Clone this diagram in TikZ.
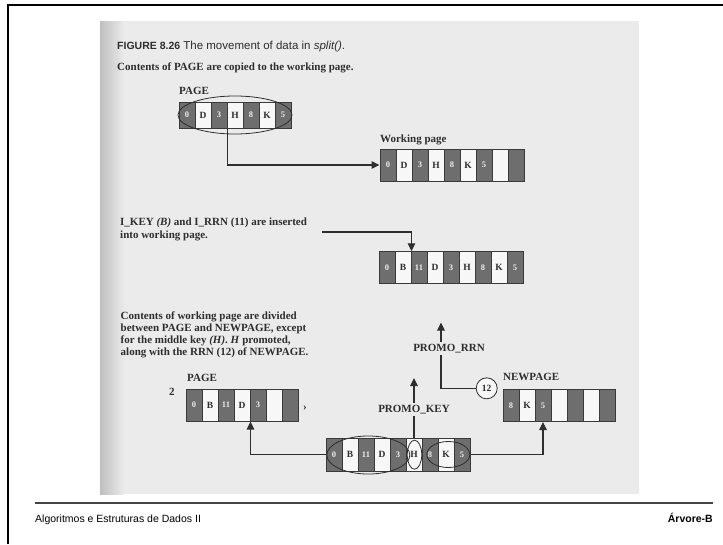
\documentclass[tikz,border=0pt]{standalone}
\usepackage{fontspec}
\setmainfont{Liberation Serif}
\setsansfont{Liberation Sans}
\usetikzlibrary{arrows.meta,shapes.geometric,calc}
\definecolor{bg}{HTML}{EBEBEB}
\definecolor{ink}{HTML}{2E2E2E}
\definecolor{dcell}{HTML}{6E6E6E}
\definecolor{wcell}{HTML}{F7F7F7}
\definecolor{cellln}{HTML}{3A3A3A}
\definecolor{fline}{HTML}{444444}
\newcommand\cellrow[5]{%
  \foreach \k/\v [count=\i from 0] in {#5} {
    \node[cell\k, minimum height=#4pt] (#1\i) at ({#2+16*\i+8},#3) {\v};
  }}
\begin{document}
\begin{tikzpicture}[x=1pt,y=-1pt,
  txt/.style={inner sep=0,anchor=base west,text=ink,font=\fontsize{11}{12}\selectfont\bfseries},
  capt/.style={inner sep=0,anchor=base west,text=ink,font=\sffamily\fontsize{11.5}{13}\selectfont},
  lbl/.style={inner sep=2pt,text=ink,font=\fontsize{11}{12}\selectfont\bfseries},
  cellD/.style={draw=cellln,line width=1pt,fill=dcell,minimum width=16pt,inner sep=0,text=white!85!gray,font=\fontsize{8.5}{9}\selectfont\bfseries},
  cellW/.style={draw=cellln,line width=1pt,fill=wcell,minimum width=16pt,inner sep=0,text=ink,font=\fontsize{9.5}{10}\selectfont\bfseries},
  conn/.style={draw=ink,line width=1.1pt},
  arr/.style={conn,-{Triangle[length=8pt,width=7.5pt]}},
  oval/.style={ellipse,draw=ink,line width=0.8pt,inner sep=0},
  foot/.style={inner sep=0,text=black,font=\sffamily\fontsize{10.5}{12}\selectfont}
]
\useasboundingbox (0,0) rectangle (723,544);
\fill[white] (0,0) rectangle (723,544);
% scanned page
\fill[bg] (100,21) rectangle (639,494);
\shade[left color=gray!50!white, right color=bg] (100,21) rectangle (124,494);
% frame
\draw[line width=2.5pt,black] (8,544) -- (8,5) -- (723,5);

% caption
\node[capt] (fig) at (117,49) {{\fontsize{10.5}{12}\selectfont\bfseries FIGURE 8.26} The movement of data in \textit{split()}.};
\node[txt] (t1) at (117,70.5) {Contents of PAGE are copied to the working page.};

% top PAGE
\node[txt] (lp) at (179,94) {PAGE};
\cellrow{p}{179}{115}{26}{D/0,W/D,D/3,W/H,D/8,W/K,D/5}
\node[oval, minimum width=114pt, minimum height=38pt] (o1) at (235,115) {};

% working page
\node[txt] (lw) at (380,142) {Working page};
\cellrow{w}{380}{165}{32}{D/0,W/D,D/3,W/H,D/8,W/K,D/5,W/{},D/{}}
\draw[arr] (p2.south east) |- (w0.west);

% insert
\node[txt] (t2a) at (120,225) {I\_KEY \textit{(B)} and I\_RRN (11) are inserted};
\node[txt] (t2b) at (120,238.5) {into working page.};
\cellrow{m}{379}{267.5}{31.5}{D/0,W/B,D/11,W/D,D/3,W/H,D/8,W/K,D/5}
\coordinate (ins) at (322,232);
\draw[arr] (ins) -| (m1.north east);

% split text
\node[txt] (t3a) at (120.5,319) {Contents of working page are divided};
\node[txt] (t3b) at (120.5,331) {between PAGE and NEWPAGE, except};
\node[txt] (t3c) at (120.5,343) {for the middle key \textit{(H)}. \textit{H} promoted,};
\node[txt] (t3d) at (120.5,355) {along with the RRN (12) of NEWPAGE.};

% lower PAGE
\node[txt] (lp2) at (187,381.7) {PAGE};
\node[txt] (two) at (169,395) {2};
\cellrow{l}{186}{405}{32}{D/0,W/B,D/11,W/D,D/3,W/{},D/{}}
\node[txt] (mk) at (303,410) {›};

% NEWPAGE
\node[txt] (ln) at (503,380.7) {NEWPAGE};
\cellrow{n}{503}{405.3}{32.5}{D/8,W/K,D/5,W/{},D/{},W/{},D/{}}

% bottom working page
\cellrow{b}{326}{454.5}{33}{D/0,W/B,D/11,W/D,D/3,W/H,D/8,W/K,D/5}
\node[oval, minimum width=83pt, minimum height=38pt] (o2) at (368.3,455) {};
\node[oval, minimum width=14.5pt, minimum height=29pt] (o3) at (414.5,454.7) {};
\node[oval, minimum width=43pt, minimum height=26pt] (o4) at (448.3,454.5) {};

\draw[arr] (b0.west) -| (l3.south east);
\draw[arr] (b8.east) -| (n2.south);

% PROMO_KEY
\node[lbl] (pk) at (414,409.3) {PROMO\_KEY};
\draw[conn] (b5.north) -- (pk.south -| b5.north);
\coordinate (pktip) at (414,378);
\draw[arr] (pk.north -| pktip) -- (pktip);

% PROMO_RRN
\node[lbl] (pr) at (449,348.3) {PROMO\_RRN};
\coordinate (prtip) at (441,322.5);
\draw[arr] (pr.north -| prtip) -- (prtip);
\node[circle,draw=ink,line width=0.8pt,fill=wcell,minimum size=21pt,inner sep=0,text=ink,font=\fontsize{9.5}{10}\selectfont\bfseries] (c12) at (486.7,388.3) {12};
\draw[conn] (c12.west) -| (pr.south -| prtip);

% footer
\draw[line width=1.5pt,fline] (35,503) -- (713,503);
\node[foot,anchor=base west] (f1) at (35,522) {Algoritmos e Estruturas de Dados II};
\node[foot,anchor=base east] (f2) at (713,522) {\bfseries Árvore-B};
\end{tikzpicture}
\end{document}
